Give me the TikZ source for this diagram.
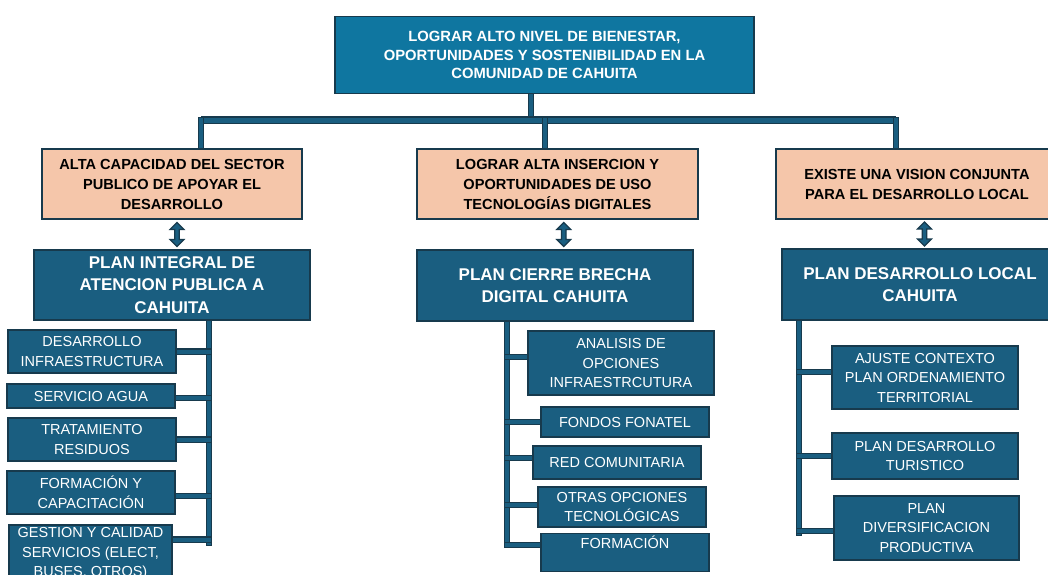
\documentclass[tikz,border=0pt]{standalone}
\usepackage{fontspec}
\setmainfont{Liberation Sans}
\usetikzlibrary{calc}
\pgfdeclarelayer{bg}
\pgfsetlayers{bg,main}
\definecolor{topblue}{HTML}{0F76A0}
\definecolor{planblue}{HTML}{1A5E80}
\definecolor{peach}{HTML}{F5C6AA}
\definecolor{edge}{HTML}{173A4D}
\definecolor{tubefill}{HTML}{1A5E80}
\begin{document}
\begin{tikzpicture}[x=1pt,y=-1pt,
  box/.style={rectangle, draw=edge, line width=1.4pt, inner sep=0pt, align=center},
  topbox/.style={box, fill=topblue, text=white, font=\bfseries\fontsize{14.8}{18.5}\selectfont},
  goalbox/.style={box, fill=peach, text=black, minimum height=70pt, font=\bfseries\fontsize{14.6}{20}\selectfont},
  planbox/.style={box, fill=planblue, text=white, font=\bfseries\fontsize{17}{22.5}\selectfont},
  itembox/.style={box, fill=planblue, text=white, font=\fontsize{14.5}{19.5}\selectfont},
  tube/.style={draw=tubefill, line width=4pt, line cap=rect, preaction={draw=edge, line width=6.4pt, line cap=rect}},
  dblarrow/.pic={\draw[fill=planblue, draw=edge, line width=1.2pt, line join=miter] (0,-12) -- (7,-5) -- (2.3,-5) -- (2.3,5) -- (7,5) -- (0,12) -- (-7,5) -- (-2.3,5) -- (-2.3,-5) -- (-7,-5) -- cycle;}
]
\useasboundingbox (0,0) rectangle (1048,574);
\clip (0,0) rectangle (1048,574);

% top
\node[topbox, minimum width=419pt, minimum height=77pt] (top) at (544.5,55) {LOGRAR ALTO NIVEL DE BIENESTAR,\\OPORTUNIDADES Y SOSTENIBILIDAD EN LA\\COMUNIDAD DE CAHUITA};

% goals
\node[goalbox, minimum width=260pt] (g1) at (172,184) {ALTA CAPACIDAD DEL SECTOR\\PUBLICO DE APOYAR EL\\DESARROLLO};
\node[goalbox, minimum width=281pt] (g2) at (557.5,184) {LOGRAR ALTA INSERCION Y\\OPORTUNIDADES DE USO\\TECNOLOGÍAS DIGITALES};
\node[goalbox, minimum width=282pt] (g3) at (917,184) {EXISTE UNA VISION CONJUNTA\\PARA EL DESARROLLO LOCAL};

% plans
\node[planbox, minimum width=276pt, minimum height=70pt] (c1) at (172,285) {PLAN INTEGRAL DE\\ATENCION PUBLICA A\\CAHUITA};
\node[planbox, minimum width=276pt, minimum height=71pt] (c2) at (555,285.5) {PLAN CIERRE BRECHA\\DIGITAL CAHUITA};
\node[planbox, minimum width=276pt, minimum height=71pt] (c3) at (920,284.5) {PLAN DESARROLLO LOCAL\\CAHUITA};

% left items
\node[itembox, minimum width=168pt, minimum height=43pt] (d1) at (92,351.5) {DESARROLLO\\INFRAESTRUCTURA};
\node[itembox, minimum width=168pt, minimum height=24pt] (d2) at (91,396) {SERVICIO AGUA};
\node[itembox, minimum width=168pt, minimum height=43pt] (d3) at (92,439.5) {TRATAMIENTO\\RESIDUOS};
\node[itembox, minimum width=168pt, minimum height=43pt] (d4) at (91,492.5) {FORMACIÓN Y\\CAPACITACIÓN};
\node[itembox, minimum width=163pt, minimum height=57pt] (d5) at (90.5,553.5) {GESTION Y CALIDAD\\SERVICIOS (ELECT,\\BUSES, OTROS)};

% middle items
\node[itembox, minimum width=186pt, minimum height=64pt] (m1) at (621,363) {ANALISIS DE\\OPCIONES\\INFRAESTRCUTURA};
\node[itembox, minimum width=168pt, minimum height=30pt] (m2) at (625,422) {FONDOS FONATEL};
\node[itembox, minimum width=168pt, minimum height=33pt] (m3) at (617,462.5) {RED COMUNITARIA};
\node[itembox, minimum width=168pt, minimum height=40pt] (m4) at (622,507) {OTRAS OPCIONES\\TECNOLÓGICAS};
\node[itembox, minimum width=168pt, text height=15pt, text depth=23pt, anchor=north] (m5) at (625,533) {FORMACIÓN};

% right items
\node[itembox, minimum width=186pt, minimum height=63pt] (r1) at (925,377.5) {AJUSTE CONTEXTO\\PLAN ORDENAMIENTO\\TERRITORIAL};
\node[itembox, minimum width=186pt, minimum height=46pt] (r2) at (925,456) {PLAN DESARROLLO\\TURISTICO};
\node[itembox, minimum width=185pt, minimum height=64pt] (r3) at (926.5,528) {PLAN\\DIVERSIFICACION\\PRODUCTIVA};

% double arrows between goals and plans
\path (g1.south) -- (c1.north) coordinate[pos=0.5] (a1);
\path (g2.south) -- (c2.north) coordinate[pos=0.5] (a2);
\path (g3.south) -- (c3.north) coordinate[pos=0.5] (a3);
\pic at ([xshift=5pt]a1) {dblarrow};
\pic at ([xshift=7.5pt]a2) {dblarrow};
\pic at ([xshift=6pt]a3) {dblarrow};

% junction coordinates
\coordinate (jS) at (531,120);
\coordinate (jL) at (201,120);
\coordinate (jM) at (545,120);
\coordinate (jR) at (896,120);
\coordinate (L) at (209,543);
\coordinate (M) at (507,545);
\coordinate (R) at (799,533);

\begin{pgfonlayer}{bg}
\draw[tube] (top.south -| jS) -- (jS);
\draw[tube, line width=5pt, preaction={draw=edge, line width=7.4pt}] (jL) -- (jR);
\draw[tube] (jL) -- (jL |- g1.north);
\draw[tube] (jM) -- (jM |- g2.north);
\draw[tube] (jR) -- (jR |- g3.north);

\draw[tube] (L |- c1.south) -- (L);
\draw[tube] (d1.east) -- (d1.east -| L);
\draw[tube] ([yshift=-2pt]d2.east) -- ([yshift=-2pt]d2.east -| L);
\draw[tube] (d3.east) -- (d3.east -| L);
\draw[tube] ([yshift=-3.5pt]d4.east) -- ([yshift=-3.5pt]d4.east -| L);
\draw[tube] ([yshift=14pt]d5.east) -- ([yshift=14pt]d5.east -| L);

\draw[tube] (M |- c2.south) -- (M);
\draw[tube] ([yshift=6pt]m1.west) -- ([yshift=6pt]m1.west -| M);
\draw[tube] (m2.west) -- (m2.west -| M);
\draw[tube] ([yshift=4.5pt]m3.west) -- ([yshift=4.5pt]m3.west -| M);
\draw[tube] ([yshift=2pt]m4.west) -- ([yshift=2pt]m4.west -| M);
\draw[tube] (m5.west |- M) -- (M);

\draw[tube] (R |- c3.south) -- (R);
\draw[tube] ([yshift=5.5pt]r1.west) -- ([yshift=5.5pt]r1.west -| R);
\draw[tube] (r2.west) -- (r2.west -| R);
\draw[tube] ([yshift=-3pt]r3.west) -- ([yshift=-3pt]r3.west -| R);
\end{pgfonlayer}
\end{tikzpicture}
\end{document}
